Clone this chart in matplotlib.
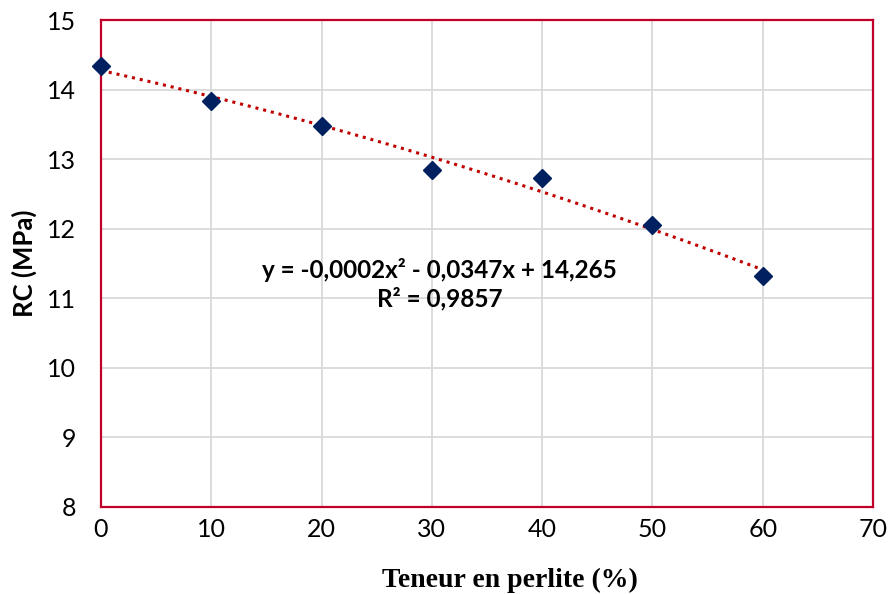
import numpy as np
import matplotlib.pyplot as plt

# perlite content (%) vs compressive strength RC (MPa)
perlite = [0, 10, 20, 30, 40, 50, 60]
rc = [14.34, 13.84, 13.48, 12.85, 12.73, 12.06, 11.32]

eq_text = 'y = -0,0002x² - 0,0347x + 14,265\nR² = 0,9857'

fig = plt.figure(figsize=(8.89, 5.94), dpi=100)
ax = fig.add_axes([0.1136, 0.1465, 0.8684, 0.8198])

# polynomial trendline (order 2)
coef = np.polyfit(perlite, rc, 2)
xs = np.linspace(min(perlite), max(perlite), 200)
ax.plot(xs, np.poly1d(coef)(xs), color='#C00000', linestyle=(0, (1, 1.6)),
        linewidth=2.2, zorder=2)
ax.plot(perlite, rc, 'D', color='#002060', markersize=9, zorder=3,
        clip_on=False)

ax.set_xlim(0, 70)
ax.set_ylim(8, 15)
ax.set_xticks(range(0, 71, 10))
ax.set_yticks(range(8, 16))
ax.grid(True, color='#D9D9D9', linewidth=1.3)
ax.set_axisbelow(True)
for s in ax.spines.values():
    s.set_color('#C0002A')
    s.set_linewidth(1.6)
ax.tick_params(length=0, labelsize=18)
ax.tick_params(axis='x', pad=8)
ax.tick_params(axis='y', pad=18)
for lab in ax.get_xticklabels() + ax.get_yticklabels():
    lab.set_family('Lato')

ax.set_xlabel('Teneur en perlite (%)', family='Liberation Serif',
              fontweight='bold', fontsize=20)
ax.xaxis.set_label_coords(0.53, -0.125)
ax.set_ylabel('RC (MPa)', family='Lato', fontweight='bold', fontsize=18.5)
ax.yaxis.set_label_coords(-0.083, 0.5)

ax.text(30.7, 11.2, eq_text, family='Lato', fontweight='bold', fontsize=17.5,
        ha='center', va='center', linespacing=1.25)

fig.savefig('out.png', dpi=100)
